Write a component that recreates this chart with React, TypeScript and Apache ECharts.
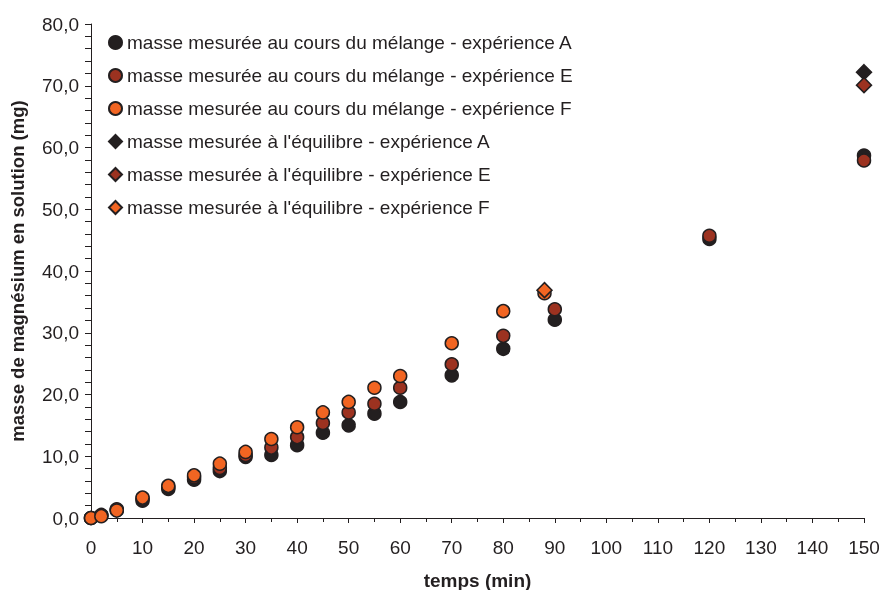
import React, { useEffect, useRef } from "react";
import * as echarts from "echarts";

const timesAE = [0, 2, 5, 10, 15, 20, 25, 30, 35, 40, 45, 50, 55, 60, 70, 80, 90, 120, 150];
const massA = [0, 0.4, 1.3, 2.8, 4.7, 6.2, 7.6, 9.9, 10.2, 11.8, 13.8, 15.0, 16.9, 18.8, 23.1, 27.4, 32.1, 45.2, 58.7];
const massE = [0, 0.5, 1.4, 3.1, 5.0, 6.6, 8.1, 10.2, 11.4, 13.1, 15.4, 17.1, 18.5, 21.1, 24.9, 29.5, 33.8, 45.7, 57.9];
const timesF = [0, 2, 5, 10, 15, 20, 25, 30, 35, 40, 45, 50, 55, 60, 70, 80, 88];
const massF = [0, 0.3, 1.2, 3.3, 5.2, 6.9, 8.8, 10.7, 12.8, 14.7, 17.1, 18.8, 21.1, 23.0, 28.3, 33.5, 36.4];
const eqTimeA = [150];
const eqMassA = [72.2];
const eqTimeE = [150];
const eqMassE = [70.1];
const eqTimeF = [88];
const eqMassF = [36.9];

const seriesNames = [
  "masse mesurée au cours du mélange - expérience A",
  "masse mesurée au cours du mélange - expérience E",
  "masse mesurée au cours du mélange - expérience F",
  "masse mesurée à l'équilibre - expérience A",
  "masse mesurée à l'équilibre - expérience E",
  "masse mesurée à l'équilibre - expérience F",
];
const colors = ["#231f20", "#9c3220", "#f26522"];

const pairs = (xs: number[], ys: number[]) => xs.map((x, i) => [x, ys[i]]);

export default function App() {
  const ref = useRef<HTMLDivElement>(null);
  useEffect(() => {
    if (!ref.current) return;
    const chart = echarts.init(ref.current, null, { renderer: "svg" });
    const font = "'Liberation Sans', Arial, sans-serif";
    const axisColor = "#231f20";
    const mk = (name: string, data: number[][], color: string, symbol: string, size: number) => ({
      type: "scatter",
      name,
      data,
      symbol,
      symbolSize: size,
      itemStyle: { color, borderColor: "#231f20", borderWidth: 1.5, opacity: 1 },
      emphasis: { disabled: true },
    });
    chart.setOption({
      animation: false,
      textStyle: { fontFamily: font },
      grid: { left: 91, right: 15, top: 24, bottom: 72, containLabel: false, outerBoundsMode: "none" },
      legend: {
        orient: "vertical",
        left: 103,
        top: 28,
        itemWidth: 13,
        itemHeight: 13,
        itemGap: 14,
        textStyle: { fontSize: 19, color: "#231f20", fontFamily: font },
        data: seriesNames,
      },
      xAxis: {
        type: "value",
        min: 0,
        max: 150,
        interval: 10,
        name: "temps (min)",
        nameLocation: "middle",
        nameGap: 53,
        nameTextStyle: { fontSize: 19, fontWeight: "bold", color: axisColor },
        axisLine: { show: true, lineStyle: { color: axisColor, width: 1 } },
        axisTick: { show: true, length: 5, lineStyle: { color: axisColor } },
        minorTick: { show: true, splitNumber: 2, length: 4, lineStyle: { color: axisColor } },
        splitLine: { show: false },
        axisLabel: { fontSize: 19, color: axisColor, margin: 20 },
      },
      yAxis: {
        type: "value",
        min: 0,
        max: 80,
        interval: 10,
        name: "masse de magnésium en solution (mg)",
        nameLocation: "middle",
        nameGap: 64,
        nameTextStyle: { fontSize: 18.5, fontWeight: "bold", color: axisColor },
        axisLine: { show: true, lineStyle: { color: axisColor, width: 1 } },
        axisTick: { show: true, length: 6, lineStyle: { color: axisColor } },
        minorTick: { show: true, splitNumber: 5, length: 6, lineStyle: { color: axisColor } },
        splitLine: { show: false },
        axisLabel: {
          fontSize: 19,
          color: axisColor,
          margin: 12,
          formatter: (v: number) => v.toFixed(1).replace(".", ","),
        },
      },
      series: [
        mk(seriesNames[0], pairs(timesAE, massA), colors[0], "circle", 13),
        mk(seriesNames[1], pairs(timesAE, massE), colors[1], "circle", 13),
        mk(seriesNames[2], pairs(timesF, massF), colors[2], "circle", 13),
        mk(seriesNames[3], pairs(eqTimeA, eqMassA), colors[0], "diamond", 15),
        mk(seriesNames[4], pairs(eqTimeE, eqMassE), colors[1], "diamond", 15),
        mk(seriesNames[5], pairs(eqTimeF, eqMassF), colors[2], "diamond", 15),
      ],
    });
    return () => chart.dispose();
  }, []);
  return (
    <div
      ref={ref}
      style={{ width: 879, height: 590, position: "fixed", left: 0, top: 0, overflow: "hidden" }}
    />
  );
}
